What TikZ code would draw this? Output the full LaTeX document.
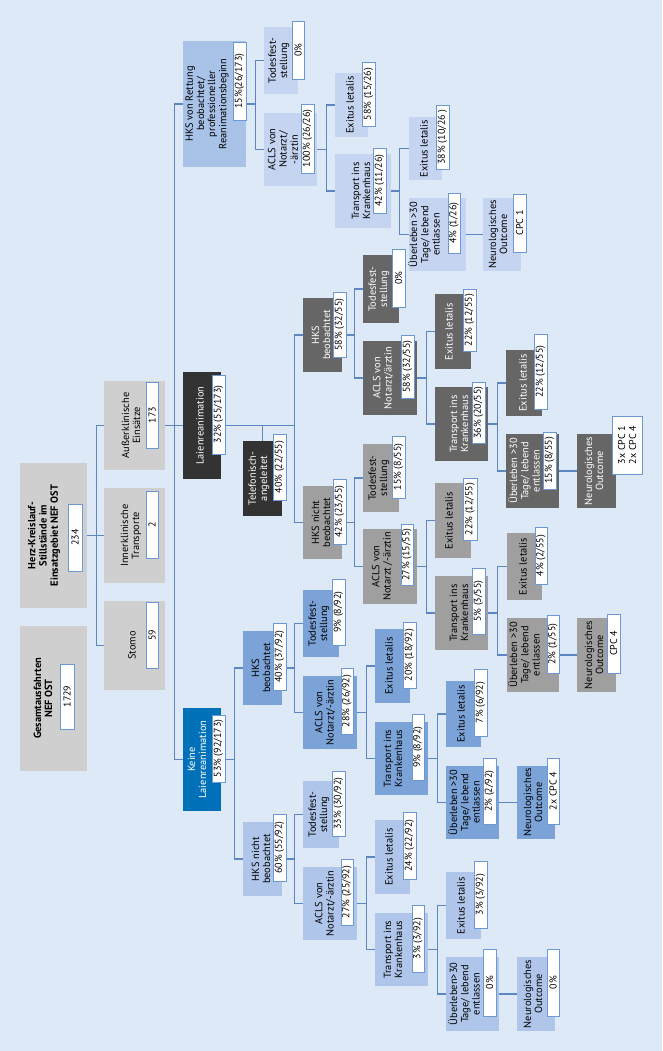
\documentclass[tikz,border=0pt]{standalone}
\usepackage{fontspec}
\setmainfont{PT Sans}
\definecolor{bgc}{HTML}{DDE9F7}
\definecolor{cGray}{HTML}{CFCFCF}
\definecolor{cKeine}{HTML}{0070B8}
\definecolor{cDark}{HTML}{333333}
\definecolor{cDg}{HTML}{666666}
\definecolor{cMg}{HTML}{9F9F9F}
\definecolor{cR1}{HTML}{A8C2E8}
\definecolor{cR2}{HTML}{C5D4F0}
\definecolor{cBm}{HTML}{7BA3D8}
\definecolor{cBl}{HTML}{AFC6EA}
\definecolor{cLine}{HTML}{5C87C4}
\definecolor{cLab}{HTML}{6C98D4}
\pgfdeclarelayer{back}\pgfdeclarelayer{lines}
\pgfsetlayers{back,lines,main}
\tikzset{
  boxbase/.style={rectangle,inner sep=0pt,draw=none},
  txtbase/.style={inner sep=0pt,align=center,font=\fontsize{10.4}{11.2}\selectfont},
  labbox/.style={rectangle,inner sep=0pt,draw=cLab,fill=white,line width=0.9pt},
  labtxt/.style={inner sep=0pt,align=center,font=\fontsize{10}{11}\selectfont},
  conn/.style={draw=cLine,line width=1.3pt},
  gr/.style={fill=cGray},
  kb/.style={fill=cKeine,text=white},
  dk/.style={fill=cDark,text=white},
  dg/.style={fill=cDg,text=white},
  mg/.style={fill=cMg},
  rA/.style={fill=cR1},
  rB/.style={fill=cR2},
  bm/.style={fill=cBm},
  bl/.style={fill=cBl},
}
\newcommand\mybox[8]{%
  \node[boxbase,#2,minimum width={(#5-#3)*1pt},minimum height={(#6-#4)*1pt}] (#1) at ({(#3+#5)/2},{(#4+#6)/2}) {};
  \node[txtbase,#2,fill=none,rotate=90] at (#7,{(#4+#6)/2}) {#8};}
\newcommand\mylab[6]{%
  \node[labbox,minimum width={(#4-#2)*1pt},minimum height={(#5-#3)*1pt}] (#1) at ({(#2+#4)/2},{(#3+#5)/2}) {};
  \node[labtxt,rotate=90] at (#1.center) {#6};}
\begin{document}
\begin{tikzpicture}[x=1pt,y=-1pt]
\useasboundingbox (0,0) rectangle (662,1051);
\begin{pgfonlayer}{back}
\fill[bgc] (0,0) rectangle (662,1051);
\end{pgfonlayer}
% top level
\mybox{ges}{gr}{20}{626}{87}{771}{43}{\textbf{Gesamtausfahrten}\\\textbf{NEF OST}}
\mylab{gesL}{60}{664}{74}{729}{1729}
\mybox{herz}{gr}{20}{463}{87}{608}{44}{\textbf{Herz-Kreislauf-}\\\textbf{Stillstände im}\\\textbf{Einsatzgebiet NEF OST}}
\mylab{herzL}{68}{504}{82}{571}{234}
\mybox{aus}{gr}{104}{381}{165}{470}{131}{Außerklinische\\Einsätze}
\mylab{ausL}{146}{382}{158}{448}{173}
\mybox{inn}{gr}{104}{488}{165}{583}{131}{Innerklinische\\Transporte}
\mylab{innL}{146}{491}{158}{558}{2}
\mybox{sto}{gr}{104}{601}{165}{690}{132}{Stomo}
\mylab{stoL}{146}{602}{158}{668}{59}
% second level
\mybox{rett}{rA}{183}{41}{246}{167}{207}{HKS von Rettung\\beobachtet/\\professioneller\\Reanimationsbeginn}
\mylab{rettL}{233}{42}{246}{120}{15\%(26/173)}
\mybox{laien}{dk}{183}{372}{221}{479}{200}{Laienreanimation}
\mylab{laienL}{212}{375}{225}{454}{32\% (55/173)}
\mybox{keine}{kb}{183}{708}{221}{811}{197}{Keine\\Laienreanimation}
\mylab{keineL}{212}{715}{225}{782}{53\% (92/173)}
\mybox{telef}{dk}{243}{441}{282}{516}{259}{Telefonisch-\\angeleitet}
\mylab{telefL}{273}{434}{286}{500}{40\% (22/55)}
% Rettung subtree
\mybox{rtod}{rB}{264}{27}{298}{94}{279}{Todesfest-\\stellung}
\mylab{rtodL}{292}{21}{304}{79}{0\%}
\mybox{racls}{rB}{264}{113}{317}{186}{283}{ACLS von\\Notarzt/\\-ärztin}
\mylab{raclsL}{301}{104}{314}{173}{100\% (26/26)}
\mybox{rex}{rB}{335}{73}{368}{137}{350}{Exitus letalis}
\mylab{rexL}{362}{62}{375}{126}{58\% (15/26)}
\mybox{rtr}{rB}{335}{154}{391}{228}{361}{Transport ins\\Krankenhaus}
\mylab{rtrL}{373}{148}{386}{213}{42\% (11/26)}
\mybox{rex2}{rB}{409}{117}{442}{180}{424}{Exitus letalis}
\mylab{rex2L}{436}{105}{449}{169}{38\% (10/26 )}
\mybox{rueb}{rB}{409}{198}{466}{271}{424}{Überleben >30\\Tage/ lebend\\entlassen}
\mylab{ruebL}{448}{193}{460}{253}{4\% (1/26)}
\mybox{rneu}{rB}{483}{198}{521}{271}{498}{Neurologisches\\Outcome}
\mylab{rneuL}{513}{194}{526}{252}{CPC 1}
% Laien: HKS beobachtet (dark)
\mybox{lhb}{dg}{303}{298}{342}{372}{321}{HKS\\beobachtet}
\mylab{lhbL}{333}{292}{346}{357}{58\% (32/55)}
\mybox{lhbtod}{dg}{363}{255}{399}{323}{379}{Todesfest-\\stellung}
\mylab{lhbtodL}{392}{249}{405}{307}{0\%}
\mybox{lhbacls}{dg}{363}{341}{417}{415}{383}{ACLS von\\Notarzt/ärztin}
\mylab{lhbaclsL}{401}{335}{414}{398}{58\% (32/55)}
\mybox{lhbex}{dg}{435}{294}{471}{369}{449}{Exitus letalis}
\mylab{lhbexL}{463}{289}{476}{351}{22\% (12/55)}
\mybox{lhbtr}{dg}{435}{387}{488}{461}{459}{Transport ins\\Krankenhaus}
\mylab{lhbtrL}{472}{382}{485}{443}{36\% (20/55)}
\mybox{lhbex2}{dg}{506}{350}{542}{416}{523}{Exitus letalis}
\mylab{lhbex2L}{534}{334}{547}{409}{22\% (12/55)}
\mybox{lhbueb}{dg}{506}{434}{559}{508}{524}{Überleben >30\\Tage/ lebend\\entlassen}
\mylab{lhbuebL}{543}{432}{556}{489}{15\% (8/55)}
\mybox{lhbneu}{dg}{577}{434}{616}{508}{594}{Neurologisches\\Outcome}
\mylab{lhbneuL}{612}{416}{642}{474}{3x CPC 1\\2x CPC 4}
% Laien: HKS nicht beobachtet (mid gray)
\mybox{lhn}{mg}{303}{486}{342}{559}{321}{HKS nicht\\beobachtet}
\mylab{lhnL}{333}{479}{346}{544}{42\% (23/55)}
\mybox{lhntod}{mg}{363}{444}{399}{512}{379}{Todesfest-\\stellung}
\mylab{lhntodL}{392}{436}{405}{498}{15\% (8/55)}
\mybox{lhnacls}{mg}{363}{529}{417}{604}{382}{ACLS von\\Notarzt /-ärztin}
\mylab{lhnaclsL}{401}{524}{413}{585}{27\% (15/55)}
\mybox{lhnex}{mg}{435}{483}{471}{558}{449}{Exitus letalis}
\mylab{lhnexL}{463}{478}{477}{540}{22\% (12/55)}
\mybox{lhntr}{mg}{435}{576}{488}{650}{459}{Transport ins\\Krankenhaus}
\mylab{lhntrL}{472}{568}{485}{634}{5\% (3/55)}
\mybox{lhnex2}{mg}{507}{533}{542}{600}{523}{Exitus letalis}
\mylab{lhnex2L}{535}{527}{547}{584}{4\% (2/55)}
\mybox{lhnueb}{mg}{507}{618}{559}{692}{524}{Überleben >30\\Tage/ lebend\\entlassen}
\mylab{lhnuebL}{547}{615}{559}{673}{2\% (1/55)}
\mybox{lhnneu}{mg}{577}{618}{616}{692}{594}{Neurologisches\\Outcome}
\mylab{lhnneuL}{607}{614}{620}{673}{CPC 4}
% Keine: HKS beobachtet (mid blue)
\mybox{khb}{bm}{243}{631}{282}{705}{261}{HKS\\beobachtet}
\mylab{khbL}{273}{623}{286}{690}{40\% (37/92)}
\mybox{khbtod}{bm}{303}{590}{339}{657}{319}{Todesfest-\\stellung}
\mylab{khbtodL}{332}{579}{345}{645}{9\% (8/92)}
\mybox{khbacls}{bm}{303}{676}{357}{749}{325}{ACLS von\\Notarzt/-ärztin}
\mylab{khbaclsL}{341}{668}{353}{734}{28\% (26/92)}
\mybox{khbex}{bm}{375}{629}{410}{703}{389}{Exitus letalis}
\mylab{khbexL}{403}{622}{416}{688}{20\% (18/92)}
\mybox{khbtr}{bm}{375}{722}{428}{795}{393}{Transport ins\\Krankenhaus}
\mylab{khbtrL}{412}{714}{424}{780}{9\% (8/92)}
\mybox{khbex2}{bm}{446}{681}{481}{747}{461}{Exitus letalis}
\mylab{khbex2L}{474}{669}{487}{736}{7\% (6/92)}
\mybox{khbueb}{bm}{446}{766}{499}{839}{464}{Überleben >30\\Tage/ lebend\\entlassen}
\mylab{khbuebL}{483}{758}{496}{824}{2\% (2/92)}
\mybox{khbneu}{bm}{517}{766}{555}{839}{533}{Neurologisches\\Outcome}
\mylab{khbneuL}{547}{758}{559}{824}{2x CPC 4}
% Keine: HKS nicht beobachtet (light blue)
\mybox{khn}{bl}{243}{822}{282}{896}{261}{HKS nicht\\beobachtet}
\mylab{khnL}{273}{814}{286}{881}{60\% (55/92)}
\mybox{khntod}{bl}{303}{781}{339}{848}{319}{Todesfest-\\stellung}
\mylab{khntodL}{332}{771}{345}{836}{33\% (30/92)}
\mybox{khnacls}{bl}{303}{867}{357}{940}{325}{ACLS von\\Notarzt/-ärztin}
\mylab{khnaclsL}{341}{859}{353}{925}{27\% (25/92)}
\mybox{khnex}{bl}{375}{820}{410}{894}{389}{Exitus letalis}
\mylab{khnexL}{403}{812}{416}{879}{24\% (22/92)}
\mybox{khntr}{bl}{375}{913}{428}{986}{393}{Transport ins\\Krankenhaus}
\mylab{khntrL}{412}{905}{424}{972}{3\% (3/92)}
\mybox{khnex2}{bl}{446}{872}{481}{939}{461}{Exitus letalis}
\mylab{khnex2L}{474}{861}{487}{928}{3\% (3/92)}
\mybox{khnueb}{bl}{446}{957}{499}{1031}{464}{Überleben>30\\Tage/ lebend\\entlassen}
\mylab{khnuebL}{483}{949}{496}{1016}{0\%}
\mybox{khnneu}{bl}{517}{957}{555}{1031}{533}{Neurologisches\\Outcome}
\mylab{khnneuL}{547}{949}{559}{1016}{0\%}
% connectors
\begin{pgfonlayer}{lines}
\draw[conn] (herz.east) -- ++(9,0) |- (aus.west);
\draw[conn] (herz.east) -- ++(9,0) |- (inn.west);
\draw[conn] (herz.east) -- ++(9,0) |- (sto.west);
\draw[conn] (aus.east) -- ++(9,0) |- (rett.west);
\draw[conn] (aus.east) -- ++(9,0) |- (laien.west);
\draw[conn] (aus.east) -- ++(9,0) |- (keine.west);
\draw[conn] (rett.east) -- ++(9,0) |- (rtod.west);
\draw[conn] (rett.east) -- ++(9,0) |- (racls.west);
\draw[conn] (racls.east) -- ++(9,0) |- (rex.west);
\draw[conn] (racls.east) -- ++(9,0) |- (rtr.west);
\draw[conn] (rtr.east) -- ++(8,0) |- (rex2.west);
\draw[conn] (rtr.east) -- ++(8,0) |- (rueb.west);
\draw[conn] (rueb.east) -- (rneu.west);
\draw[conn] (laien.east) -- ++(73,0) |- (lhb.west);
\draw[conn] (laien.east) -- ++(73,0) |- (lhn.west);
\draw[conn] (telef.north) -- (telef.north |- laien.east);
\draw[conn] (lhb.east) -- ++(12,0) |- (lhbtod.west);
\draw[conn] (lhb.east) -- ++(12,0) |- (lhbacls.west);
\draw[conn] (lhbacls.east) -- ++(9,0) |- (lhbex.west);
\draw[conn] (lhbacls.east) -- ++(9,0) |- (lhbtr.west);
\draw[conn] (lhbtr.east) -- ++(9,0) |- (lhbex2.west);
\draw[conn] (lhbtr.east) -- ++(9,0) |- (lhbueb.west);
\draw[conn] (lhbueb.east) -- (lhbneu.west);
\draw[conn] (lhn.east) -- ++(12,0) |- (lhntod.west);
\draw[conn] (lhn.east) -- ++(12,0) |- (lhnacls.west);
\draw[conn] (lhnacls.east) -- ++(9,0) |- (lhnex.west);
\draw[conn] (lhnacls.east) -- ++(9,0) |- (lhntr.west);
\draw[conn] (lhntr.east) -- ++(9,0) |- (lhnex2.west);
\draw[conn] (lhntr.east) -- ++(9,0) |- (lhnueb.west);
\draw[conn] (lhnueb.east) -- (lhnneu.west);
\draw[conn] (keine.east) -- ++(13,0) |- (khb.west);
\draw[conn] (keine.east) -- ++(13,0) |- (khn.west);
\draw[conn] (khb.east) -- ++(12,0) |- (khbtod.west);
\draw[conn] (khb.east) -- ++(12,0) |- (khbacls.west);
\draw[conn] (khbacls.east) -- ++(9,0) |- (khbex.west);
\draw[conn] (khbacls.east) -- ++(9,0) |- (khbtr.west);
\draw[conn] (khbtr.east) -- ++(9,0) |- (khbex2.west);
\draw[conn] (khbtr.east) -- ++(9,0) |- (khbueb.west);
\draw[conn] (khbueb.east) -- (khbneu.west);
\draw[conn] (khn.east) -- ++(12,0) |- (khntod.west);
\draw[conn] (khn.east) -- ++(12,0) |- (khnacls.west);
\draw[conn] (khnacls.east) -- ++(9,0) |- (khnex.west);
\draw[conn] (khnacls.east) -- ++(9,0) |- (khntr.west);
\draw[conn] (khntr.east) -- ++(9,0) |- (khnex2.west);
\draw[conn] (khntr.east) -- ++(9,0) |- (khnueb.west);
\draw[conn] (khnueb.east) -- (khnneu.west);
\end{pgfonlayer}
\end{tikzpicture}
\end{document}
